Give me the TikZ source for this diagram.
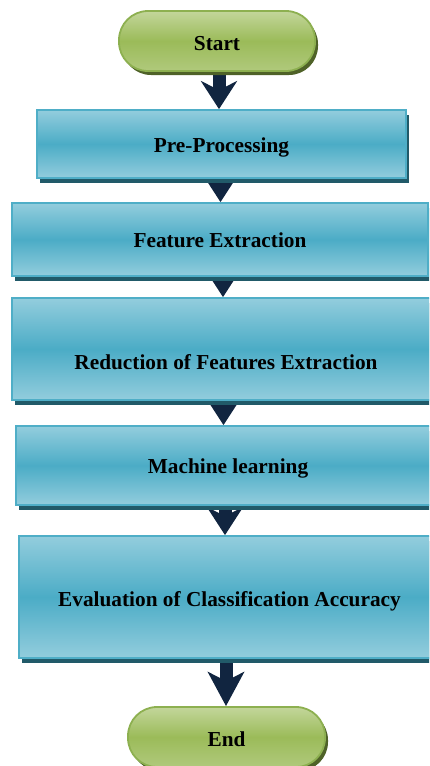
\documentclass[tikz,border=0pt]{standalone}
\usepackage{fontspec}
\setmainfont{Liberation Serif}
\usetikzlibrary{arrows.meta,shadows,backgrounds}
\definecolor{boxlight}{HTML}{93CDDD}
\definecolor{boxmid}{HTML}{4BACC6}
\definecolor{boxedge}{HTML}{4FAEC7}
\definecolor{boxshadow}{HTML}{215A69}
\definecolor{pilltop}{HTML}{C3D69B}
\definecolor{pillmid}{HTML}{9BBB59}
\definecolor{pillbot}{HTML}{B0C97C}
\definecolor{pilledge}{HTML}{8DB050}
\definecolor{pillshadow}{HTML}{4F6228}
\definecolor{arrowc}{HTML}{112540}
\begin{document}
\begin{tikzpicture}[x=1pt,y=-1pt,
  txt/.style={font=\fontsize{21.3}{24}\selectfont\bfseries, text=black, text height=16pt, text depth=0pt, inner sep=0pt},
  stepbox/.style={txt, rectangle, draw=boxedge, line width=1.8pt, top color=boxlight, bottom color=boxlight, middle color=boxmid,
    drop shadow={shadow xshift=3pt, shadow yshift=-5pt, fill=boxshadow, opacity=1}},
  pill/.style={txt, text height=19.5pt, rectangle, rounded corners=29pt, draw=pilledge, line width=1.8pt, top color=pilltop, bottom color=pillbot, middle color=pillmid,
    drop shadow={shadow xshift=3pt, shadow yshift=-4pt, fill=pillshadow, opacity=1}},
  flow/.style={draw=arrowc, line width=13pt, -{Stealth[length=28pt,width=36pt,inset=9pt]}},
  flowlong/.style={draw=arrowc, line width=13pt, -{Stealth[length=34pt,width=36pt,inset=9pt]}}
]
\useasboundingbox (0,0) rectangle (429,766);
\clip (0,0) rectangle (429,766);

\node[pill, minimum width=196pt, minimum height=60pt] (start) at (217,41) {Start};
\node[stepbox, minimum width=369pt, minimum height=68pt] (b1) at (221.5,144) {Pre-Processing};
\node[stepbox, minimum width=416pt, minimum height=73pt] (b2) at (220,239.5) {Feature Extraction};
\node[stepbox, minimum width=428pt, minimum height=102pt, text height=40pt] (b3) at (226,349) {Reduction of Features Extraction};
\node[stepbox, minimum width=424pt, minimum height=79pt] (b4) at (228,465.5) {Machine learning};
\node[stepbox, minimum width=421pt, minimum height=122pt, text height=18pt] (b5) at (229.5,597) {Evaluation of Classification Accuracy};
\node[pill, minimum width=197pt, minimum height=60pt] (end) at (226.5,737) {End};

\begin{scope}[on background layer]
\draw[flow] ([xshift=2pt]start.south) -- ([xshift=2pt]start.south |- b1.north);
\draw[flow] ([xshift=-1pt]b1.south) -- ([xshift=-1pt]b1.south |- b2.north);
\draw[flow] ([xshift=3pt]b2.south) -- ([xshift=3pt]b2.south |- b3.north);
\draw[flow] ([xshift=-2.5pt]b3.south) -- ([xshift=-2.5pt]b3.south |- b4.north);
\draw[flow] ([xshift=-3pt]b4.south) -- ([xshift=-3pt]b4.south |- b5.north);
\draw[flowlong] ([xshift=-3.5pt]b5.south) -- ([xshift=-3.5pt]b5.south |- end.north);
\end{scope}
\end{tikzpicture}
\end{document}
